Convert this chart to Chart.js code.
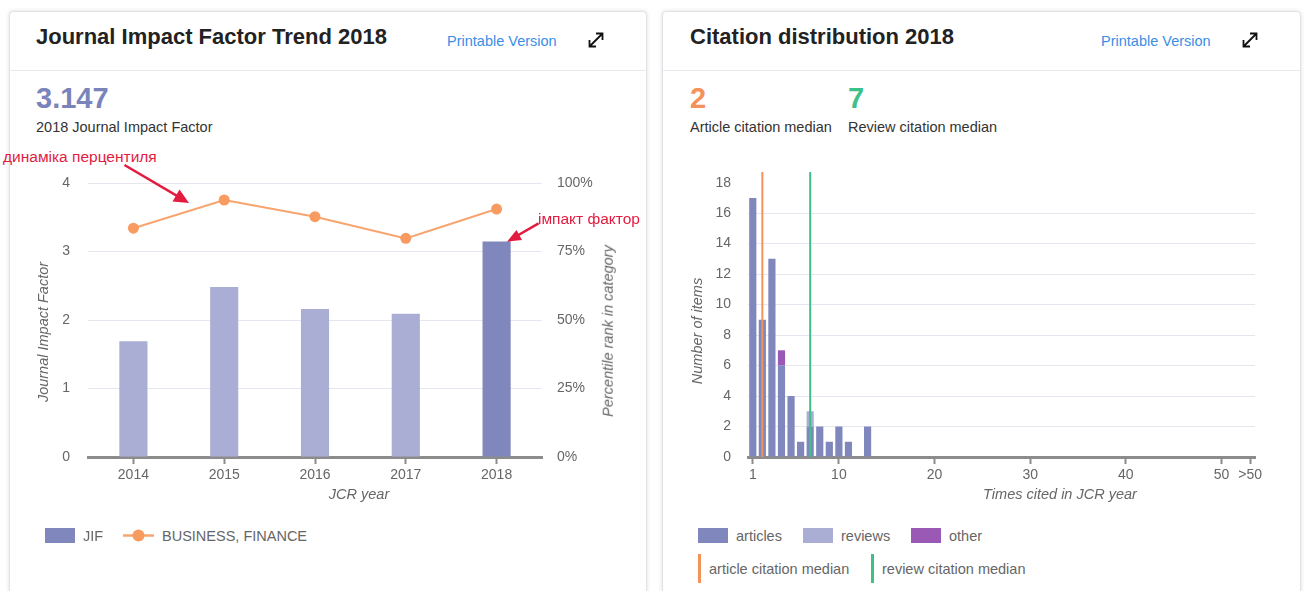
<!DOCTYPE html>
<html>
<head>
<meta charset="utf-8">
<script src="https://cdn.jsdelivr.net/npm/chart.js@4.4.1/dist/chart.umd.min.js"></script>
<style>
html,body{margin:0;padding:0;background:#fff;width:1305px;height:591px;overflow:hidden;font-family:"Liberation Sans",Arial,sans-serif;}
.card{position:absolute;top:11px;height:620px;background:#fff;border:1px solid #e2e2e6;border-radius:4px;box-shadow:0 0 4px rgba(0,0,0,0.13);box-sizing:border-box;}
.sep{position:absolute;top:70px;height:1px;background:#e8e8ef;}
.t{position:absolute;white-space:nowrap;line-height:1;}
.title{font-size:22px;font-weight:bold;color:#222;}
.link{font-size:14.5px;color:#3a8ee6;}
.big{font-size:29px;font-weight:bold;}
.sub{font-size:14.5px;color:#333;}
.axt{font-size:14.5px;font-style:italic;color:#666;}
.rot{position:absolute;white-space:nowrap;line-height:1;font-size:14.5px;font-style:italic;color:#666;transform:translate(-50%,-50%) rotate(-90deg);}
.leg{font-size:14.5px;color:#666;}
.box{position:absolute;width:30px;height:15px;}
.red{font-size:15.5px;color:#e31b3f;}
canvas{position:absolute;}
svg{position:absolute;}
</style>
</head>
<body>
<div class="card" style="left:9px;width:638px;"></div>
<div class="card" style="left:662px;width:639px;"></div>
<div class="sep" style="left:10px;width:636px;"></div>
<div class="sep" style="left:663px;width:637px;"></div>

<!-- left header -->
<div class="t title" style="left:36px;top:26.4px;">Journal Impact Factor Trend 2018</div>
<div class="t link" style="left:447px;top:34.2px;">Printable Version</div>
<svg style="left:587px;top:31px;" width="18" height="18" viewBox="0 0 18 18">
  <path d="M2.5 15.5 L15.5 2.5 M9 2.5 H15.5 V9 M2.5 9 V15.5 H9" fill="none" stroke="#111" stroke-width="1.8"/>
</svg>
<div class="t big" style="left:36px;top:83.8px;color:#7b83bb;">3.147</div>
<div class="t sub" style="left:36px;top:120.4px;">2018 Journal Impact Factor</div>

<!-- right header -->
<div class="t title" style="left:690px;top:26.4px;">Citation distribution 2018</div>
<div class="t link" style="left:1101px;top:34.2px;">Printable Version</div>
<svg style="left:1241px;top:31px;" width="18" height="18" viewBox="0 0 18 18">
  <path d="M2.5 15.5 L15.5 2.5 M9 2.5 H15.5 V9 M2.5 9 V15.5 H9" fill="none" stroke="#111" stroke-width="1.8"/>
</svg>
<div class="t big" style="left:690px;top:83.8px;color:#f4925a;">2</div>
<div class="t big" style="left:848px;top:83.8px;color:#3ec08a;">7</div>
<div class="t sub" style="left:690px;top:120.4px;">Article citation median</div>
<div class="t sub" style="left:848px;top:120.4px;">Review citation median</div>

<canvas id="c1" width="636" height="340" style="left:10px;top:165px;"></canvas>
<canvas id="c2" width="638" height="345" style="left:662px;top:160px;"></canvas>

<!-- axis titles -->
<div class="rot" style="left:43px;top:332px;">Journal Impact Factor</div>
<div class="rot" style="left:608px;top:331px;">Percentile rank in category</div>
<div class="t axt" style="left:359px;top:494px;transform:translate(-50%,-50%);">JCR year</div>
<div class="rot" style="left:697px;top:331px;">Number of items</div>
<div class="t axt" style="left:1060px;top:494px;transform:translate(-50%,-50%);">Times cited in JCR year</div>

<!-- left legend -->
<div class="box" style="left:45px;top:528px;background:#7f87bd;"></div>
<div class="t leg" style="left:83px;top:528.5px;">JIF</div>
<svg style="left:123px;top:529px;" width="31" height="13" viewBox="0 0 31 13">
  <line x1="0" y1="6.5" x2="31" y2="6.5" stroke="#f8a46e" stroke-width="2.5"/>
  <circle cx="15.5" cy="6.5" r="6" fill="#f79b61"/>
</svg>
<div class="t leg" style="left:162px;top:528.5px;">BUSINESS, FINANCE</div>

<!-- right legend -->
<div class="box" style="left:698px;top:528px;background:#7f87bd;"></div>
<div class="t leg" style="left:736px;top:528.5px;">articles</div>
<div class="box" style="left:803px;top:528px;background:#aaaed4;"></div>
<div class="t leg" style="left:841px;top:528.5px;">reviews</div>
<div class="box" style="left:911px;top:528px;background:#9b59b6;"></div>
<div class="t leg" style="left:949px;top:528.5px;">other</div>
<div style="position:absolute;left:698px;top:554px;width:3px;height:29px;background:#f4925a;"></div>
<div class="t leg" style="left:709px;top:562px;">article citation median</div>
<div style="position:absolute;left:871px;top:554px;width:3px;height:29px;background:#3ec08a;"></div>
<div class="t leg" style="left:882px;top:562px;">review citation median</div>

<!-- red annotations -->
<div class="t red" style="left:3px;top:149px;">динаміка перцентиля</div>
<div class="t red" style="left:538px;top:211px;">імпакт фактор</div>
<svg style="left:0;top:0;" width="1305" height="591">
  <line x1="124.5" y1="165" x2="180" y2="197.6" stroke="#e31b3f" stroke-width="2.5"/>
  <polygon points="189,203 172.5,201.5 179.5,189.5" fill="#e31b3f"/>
  <line x1="538.6" y1="223.3" x2="515" y2="237" stroke="#e31b3f" stroke-width="2.5"/>
  <polygon points="507,241.7 516.5,230 522,240" fill="#e31b3f"/>
</svg>

<script>
// ---- data: Journal Impact Factor trend ----
const years = ['2014', '2015', '2016', '2017', '2018'];
const jifValues = [1.69, 2.48, 2.16, 2.09, 3.147];
const percentileValues = [83.5, 93.8, 87.7, 79.8, 90.5];
const jifTicks = [0, 1, 2, 3, 4];
const percentTicks = [0, 25, 50, 75, 100];

// ---- data: citation distribution ----
const citedBins = [1, 2, 3, 4, 5, 6, 7, 8, 9, 10, 11, 13];
const articleCounts = [17, 9, 13, 6, 4, 1, 2, 2, 1, 2, 1, 2];
const reviewBins = [7];
const reviewCounts = [1];
const otherBins = [4];
const otherCounts = [1];
const articleMedian = 2;
const reviewMedian = 7;
const citedTickValues = [1, 10, 20, 30, 40, 50, 53];
const citedTickLabels = ['1', '10', '20', '30', '40', '50', '>50'];
const countTicks = [0, 2, 4, 6, 8, 10, 12, 14, 16, 18];

Chart.defaults.font.family = '"Liberation Sans", Arial, sans-serif';
Chart.defaults.font.size = 14;
Chart.defaults.color = '#666';

const AXIS_COLOR = '#8c8c8c';
const GRID_COLOR = '#e6e6f0';
const NONE = 'rgba(0,0,0,0)';

new Chart(document.getElementById('c1'), {
  type: 'bar',
  data: {
    labels: years,
    datasets: [
      {
        type: 'line', label: 'BUSINESS, FINANCE', data: percentileValues, yAxisID: 'yp',
        borderColor: '#f8a46e', borderWidth: 2, pointRadius: 5.5, pointHoverRadius: 5.5,
        pointBackgroundColor: '#f79b61', pointBorderWidth: 0, tension: 0, order: 0
      },
      {
        type: 'bar', label: 'JIF', data: jifValues, yAxisID: 'y',
        backgroundColor: years.map((_, i) => i === years.length - 1 ? '#7f87bd' : '#aaaed4'),
        barPercentage: 0.31, categoryPercentage: 1, order: 1
      }
    ]
  },
  options: {
    responsive: false, animation: false, devicePixelRatio: 1,
    layout: { padding: { top: 18, left: 0, right: 0, bottom: 0 } },
    plugins: { legend: { display: false }, tooltip: { enabled: false } },
    scales: {
      x: {
        offset: true,
        grid: { display: true, drawOnChartArea: false, offset: false, tickLength: 7, tickColor: AXIS_COLOR, tickWidth: 2 },
        border: { display: true, color: AXIS_COLOR, width: 3 },
        ticks: { padding: 3, font: { size: 14 } },
        afterFit: s => { s.height = 48; }
      },
      y: {
        position: 'left', min: 0, max: 4,
        afterBuildTicks: s => { s.ticks = jifTicks.map(v => ({ value: v })); },
        grid: { color: GRID_COLOR, drawTicks: true, tickLength: 18, tickColor: NONE },
        border: { display: false },
        ticks: { padding: 0 },
        afterFit: s => { s.width = 78; }
      },
      yp: {
        position: 'right', min: 0, max: 100,
        afterBuildTicks: s => { s.ticks = percentTicks.map(v => ({ value: v })); },
        grid: { drawOnChartArea: false, drawTicks: true, tickLength: 15, tickColor: NONE },
        border: { display: false },
        ticks: { padding: 0, callback: v => v + '%' },
        afterFit: s => { s.width = 104; }
      }
    }
  }
});

const COUNT_MAX = 18.7;
new Chart(document.getElementById('c2'), {
  type: 'bar',
  data: {
    datasets: [
      { label: 'articles', data: citedBins.map((x, i) => ({ x: x, y: articleCounts[i] })), backgroundColor: '#7f87bd', barPercentage: 0.75, categoryPercentage: 1, order: 1 },
      { label: 'reviews', data: reviewBins.map((x, i) => ({ x: x, y: reviewCounts[i] })), backgroundColor: '#aaaed4', barPercentage: 0.75, categoryPercentage: 1, order: 1 },
      { label: 'other', data: otherBins.map((x, i) => ({ x: x, y: otherCounts[i] })), backgroundColor: '#9b59b6', barPercentage: 0.75, categoryPercentage: 1, order: 1 },
      { type: 'line', label: 'article citation median', data: [{ x: articleMedian, y: 0 }, { x: articleMedian, y: COUNT_MAX }], yAxisID: 'ym', borderColor: '#f4925a', borderWidth: 2, pointRadius: 0, order: 0 },
      { type: 'line', label: 'review citation median', data: [{ x: reviewMedian, y: 0 }, { x: reviewMedian, y: COUNT_MAX }], yAxisID: 'ym', borderColor: '#3ec08a', borderWidth: 2, pointRadius: 0, order: 0 }
    ]
  },
  options: {
    responsive: false, animation: false, devicePixelRatio: 1,
    layout: { padding: { top: 12, left: 0, right: 45, bottom: 0 } },
    plugins: { legend: { display: false }, tooltip: { enabled: false } },
    scales: {
      x: {
        type: 'linear', min: 0.5, max: 53.5, offset: false, stacked: true,
        afterBuildTicks: s => { s.ticks = citedTickValues.map(v => ({ value: v })); },
        ticks: { autoSkip: false, maxRotation: 0, padding: 3, callback: (v, i) => citedTickLabels[i] },
        grid: { display: true, drawOnChartArea: false, offset: false, tickLength: 7, tickColor: AXIS_COLOR, tickWidth: 2 },
        border: { display: true, color: AXIS_COLOR, width: 3 },
        afterFit: s => { s.height = 48; }
      },
      y: {
        stacked: true, min: 0, max: COUNT_MAX,
        afterBuildTicks: s => { s.ticks = countTicks.map(v => ({ value: v })); },
        ticks: { padding: 0 },
        grid: { drawTicks: true, tickLength: 17, tickColor: NONE, color: c => (c.tick && c.tick.value === 18) ? NONE : GRID_COLOR },
        border: { display: false },
        afterFit: s => { s.width = 86; }
      },
      ym: { display: false, min: 0, max: COUNT_MAX }
    }
  }
});
</script>
</body>
</html>
